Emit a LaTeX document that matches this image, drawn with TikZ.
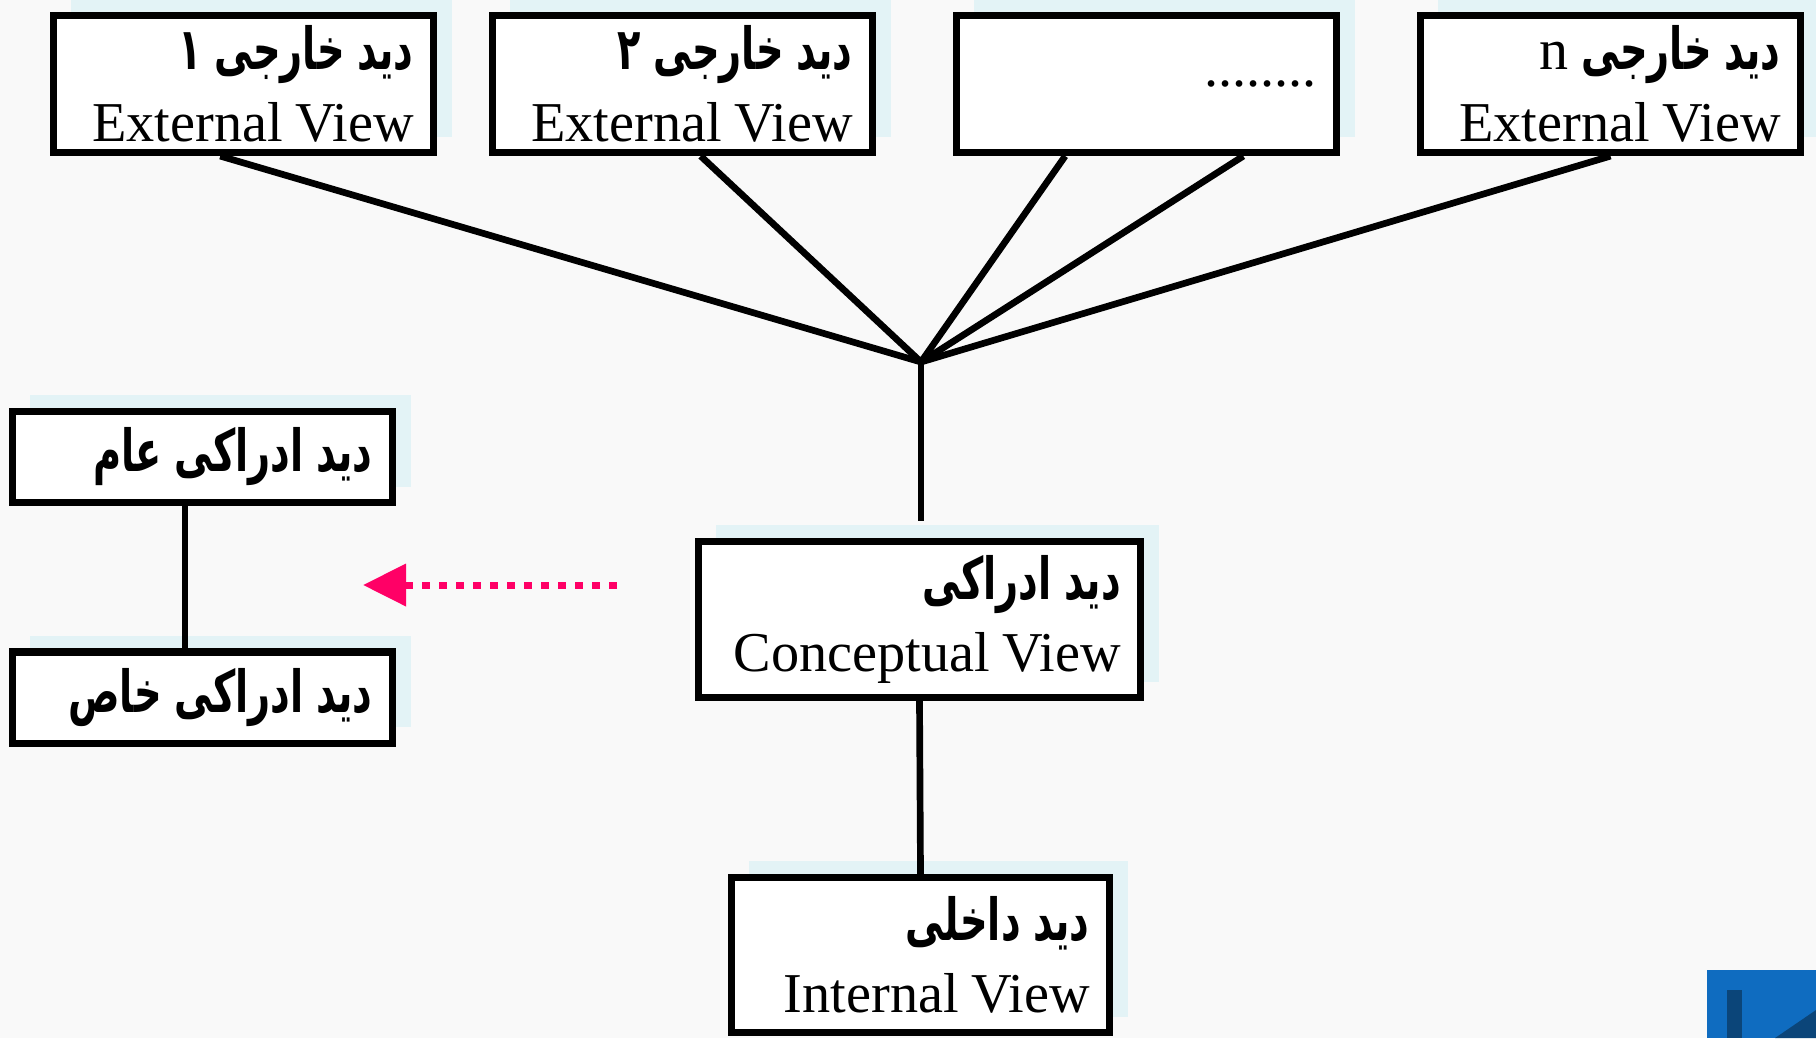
\documentclass[tikz,border=0pt]{standalone}
\usepackage{fontspec}
\setmainfont{Liberation Serif}
\newfontfamily\farsi[Script=Arabic, FakeStretch=0.66]{DejaVu Sans}
\TeXXeTstate=1
\usepackage{tikz}
\usetikzlibrary{arrows.meta, calc, shadows}
\definecolor{pageBack}{HTML}{F9F9F9}
\definecolor{viewShadow}{HTML}{E3F3F6}
\definecolor{hintPink}{HTML}{FF0066}
\definecolor{scrapPink}{HTML}{F07C84}
\definecolor{cornerBlue}{HTML}{0F6CC0}
\definecolor{cornerNavy}{HTML}{0B4579}
\newlength{\faspace}
\newcommand{\viewfont}{\fontsize{16}{20.5}\selectfont}
\newcommand{\fa}[1]{{\farsi\bfseries\fontsize{16.5}{20.5}\selectfont\setlength{\faspace}{0.22em}\spaceskip\faspace\beginR #1\endR}}

\begin{document}
\begin{tikzpicture}[
    x=0.01cm, y=-0.01cm,
    view/.style={
        draw=black,
        fill=white,
        line width=2pt,
        align=right,
        inner xsep=0.2cm,
        inner ysep=0pt,
        font=\viewfont,
        execute at begin node={\setlength{\spaceskip}{0.22em}},
        drop shadow={shadow xshift=0.18cm, shadow yshift=0.16cm, fill=viewShadow, opacity=1}
    },
    topview/.style={view, text width=3.4cm, minimum height=1.37cm},
    sideview/.style={view, text width=3.4cm, minimum height=0.91cm},
    link/.style={draw=black, line width=1.9pt},
    hint/.style={
        draw=hintPink,
        line width=2pt,
        dash pattern=on 0.08cm off 0.09cm,
        -{Triangle[length=0.43cm, width=0.41cm]}
    }
]

% Page
\useasboundingbox (0,0) rectangle (1816,1038);
\fill[pageBack] (0,0) rectangle (1816,1038);

% Cut-off marks at the top edge
\draw[scrapPink, line width=1.2pt] (626,0) -- (620,9);
\draw[scrapPink, line width=1.5pt] (692,0) -- (692,12);

% External views
\node[topview] (ext1) at (243.5,84) {\fa{دید خارجی ۱}\\External View};
\node[topview] (ext2) at (682.5,84) {\fa{دید خارجی ۲}\\External View};
\node[topview] (extdots) at (1146.5,84) {........};
\node[topview] (extn) at (1610.5,84) {\fa{دید خارجی {\rmfamily\mdseries n}}\\External View};

% Conceptual and internal views
\node[view, text width=4.02cm, minimum height=1.56cm] (concept) at (919.5,619.5)
    {\fa{دید ادراکی}\\Conceptual View};
\node[view, text width=3.38cm, minimum height=1.55cm] (internal) at (920.5,955)
    {\fa{دید داخلی}\\Internal View};

% General and special conceptual views
\node[sideview] (general) at (202.5,457) {\fa{دید ادراکی عام}};
\node[sideview] (special) at (202.5,697.5) {\fa{دید ادراکی خاص}};

% Mapping lines
\coordinate (hub) at (921,362);
\coordinate (hubend) at (921,521);
\draw[link] ($(ext1.south west)!0.44!(ext1.south east)$) -- (hub);
\draw[link] ($(ext2.south west)!0.547!(ext2.south east)$) -- (hub);
\draw[link] ($(extdots.south west)!0.29!(extdots.south east)$) -- (hub);
\draw[link] ($(extdots.south west)!0.75!(extdots.south east)$) -- (hub);
\draw[link] (extn.south) -- (hub);
\draw[link] (hub) -- (hubend);
\draw[link] (concept.south) -- (internal.north);
\draw[link] ($(general.south west)!0.455!(general.south east)$) -- ($(special.north west)!0.455!(special.north east)$);

% Dotted pointer
\coordinate (hintfrom) at (617,585);
\coordinate (hintto) at (363,585);
\draw[hint] (hintfrom) -- (hintto);

% Corner mark
\fill[cornerBlue] (1707,970) rectangle (1816,1038);
\fill[cornerNavy] (1727,990) rectangle (1742,1038);
\fill[cornerNavy] (1775,1038) -- (1816,1010) -- (1816,1038) -- cycle;

\end{tikzpicture}
\end{document}
